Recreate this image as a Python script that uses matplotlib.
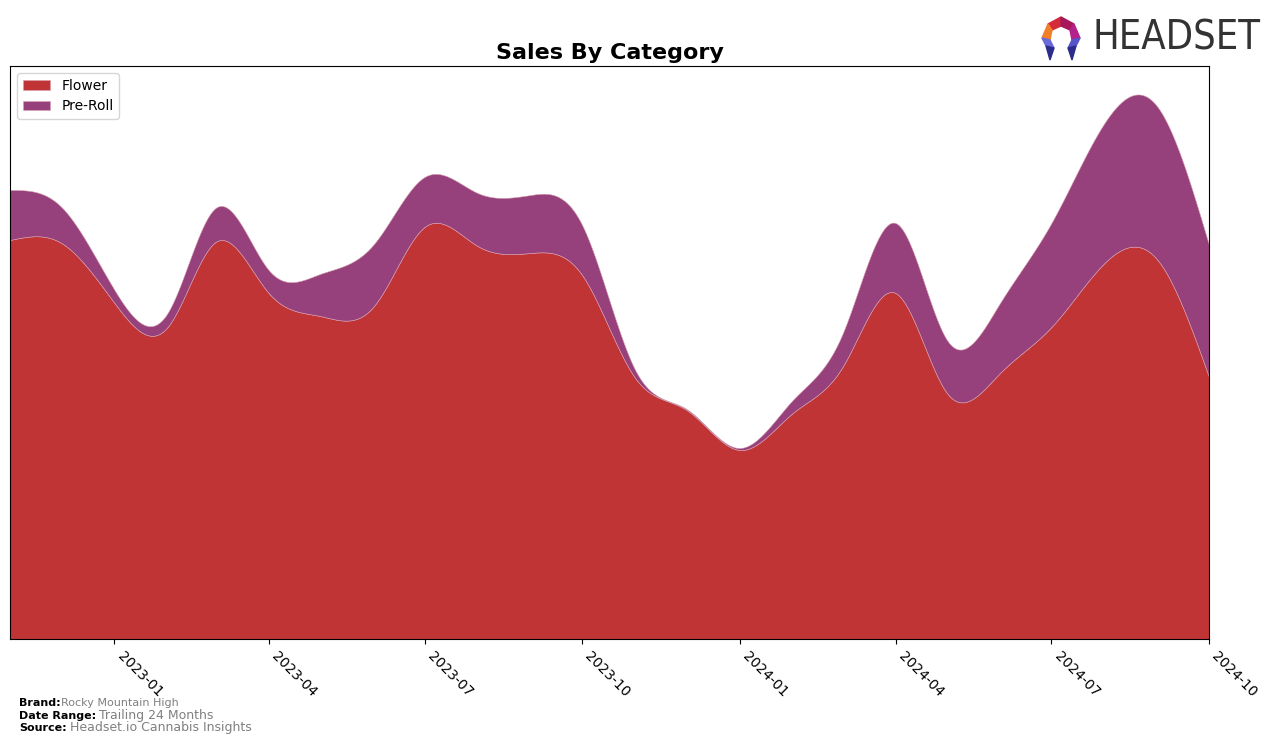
#!/usr/bin/env python3
"""
Sales By Category - stacked smooth area chart (Flower / Pre-Roll)
"""
import numpy as np
import pandas as pd
import matplotlib
matplotlib.use('Agg')
import matplotlib.pyplot as plt
import matplotlib.dates as mdates
from matplotlib.patches import Polygon

months = pd.date_range('2022-11-01', '2024-10-01', freq='MS')

# monthly sales (arbitrary units)
flower = [399, 396, 336, 312, 397, 346, 323, 332, 412, 393, 386, 364,
          261, 229, 189, 226, 272, 346, 246, 266, 312, 376, 379, 262]
pre_roll = [50, 36, 13, 14, 34, 23, 42, 62, 50, 53, 58, 50,
            8, 1, 2, 13, 33, 70, 53, 70, 104, 140, 153, 132]

categories = ['Flower', 'Pre-Roll']
colors = ['#c13435', '#96417b']


def natural_spline(x, y, xs):
    # plain natural cubic spline, only used to draw smooth edges
    x = np.asarray(x, float)
    y = np.asarray(y, float)
    n = len(x)
    h = np.diff(x)
    A = np.zeros((n, n))
    b = np.zeros(n)
    A[0, 0] = A[-1, -1] = 1
    for i in range(1, n - 1):
        A[i, i - 1] = h[i - 1]
        A[i, i] = 2 * (h[i - 1] + h[i])
        A[i, i + 1] = h[i]
        b[i] = 3 * ((y[i + 1] - y[i]) / h[i] - (y[i] - y[i - 1]) / h[i - 1])
    c = np.linalg.solve(A, b)
    idx = np.clip(np.searchsorted(x, xs) - 1, 0, n - 2)
    dx = xs - x[idx]
    bb = (y[idx + 1] - y[idx]) / h[idx] - h[idx] * (2 * c[idx] + c[idx + 1]) / 3
    dd = (c[idx + 1] - c[idx]) / (3 * h[idx])
    return y[idx] + bb * dx + c[idx] * dx ** 2 + dd * dx ** 3


xnum = mdates.date2num(months)
xs = np.linspace(xnum[0], xnum[-1], 600)
flower_s = np.clip(natural_spline(xnum, flower, xs), 0, None)
pre_s = np.clip(natural_spline(xnum, pre_roll, xs), 0, None)

fig = plt.figure(figsize=(12.76, 7.45), dpi=100)
ax = fig.add_axes([10 / 1276, 106 / 745, 1199 / 1276, 573 / 745])

ax.stackplot(mdates.num2date(xs), flower_s, pre_s, labels=categories,
             colors=colors, edgecolor='#d9a0b0', linewidth=0.4)

ax.set_xlim(months[0], months[-1])
ax.set_ylim(0, 573)
ax.set_yticks([])
ax.xaxis.set_major_locator(mdates.MonthLocator(bymonth=[1, 4, 7, 10]))
ax.xaxis.set_major_formatter(mdates.DateFormatter('%Y-%m'))
plt.setp(ax.get_xticklabels(), rotation=-45, ha='left', fontsize=10)

ax.set_title('Sales By Category', fontsize=16, fontweight='bold', pad=5)
ax.legend(loc='upper left', fontsize=10, handlelength=2.0)

# footer
fig.text(19 / 1276, 1 - 703 / 745, 'Brand:', fontsize=8, fontweight='bold', va='center')
fig.text(61 / 1276, 1 - 703 / 745, 'Rocky Mountain High', fontsize=8, color='gray', va='center')
fig.text(19 / 1276, 1 - 716 / 745, 'Date Range:', fontsize=8, fontweight='bold', va='center')
fig.text(99 / 1276, 1 - 716 / 745, 'Trailing 24 Months', fontsize=9, color='gray', va='center')
fig.text(19 / 1276, 1 - 728 / 745, 'Source:', fontsize=8, fontweight='bold', va='center')
fig.text(70 / 1276, 1 - 728 / 745, 'Headset.io Cannabis Insights', fontsize=9, color='gray', va='center')

# logo
fig.text(1092 / 1276, 1 - 38 / 745, 'HEADSET', fontsize=28.5, color='#333333',
         va='center', ha='left', fontweight='medium', fontstretch='condensed')
lax = fig.add_axes([1036 / 1276, 1 - 62 / 745, 50 / 1276, 48 / 745])
lax.set_xlim(0, 50)
lax.set_ylim(0, 48)
lax.axis('off')
pieces = [
    ([(12, 38), (25, 45), (25, 36), (16, 32)], '#d42a3a'),
    ([(25, 45), (38, 38), (34, 32), (25, 36)], '#a8175a'),
    ([(12, 38), (16, 32), (14, 22), (6, 24)], '#f07f2a'),
    ([(38, 38), (44, 24), (36, 22), (34, 32)], '#b5218c'),
    ([(6, 24), (14, 22), (18, 14), (10, 16)], '#6a6ad8'),
    ([(10, 16), (18, 14), (14, 2)], '#2c2c8c'),
    ([(44, 24), (36, 22), (32, 14), (40, 16)], '#5555c8'),
    ([(40, 16), (32, 14), (36, 2)], '#2c2c8c'),
]
for pts, col in pieces:
    lax.add_patch(Polygon(pts, closed=True, color=col))

fig.savefig('out.png', dpi=100)
